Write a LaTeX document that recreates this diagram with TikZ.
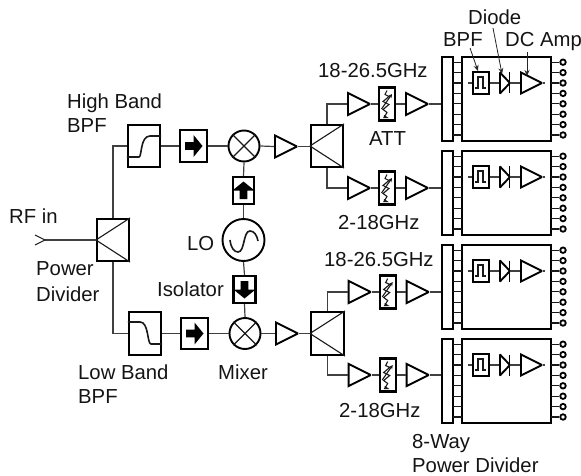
\documentclass[tikz,border=0pt]{standalone}
\usepackage{fontspec}
\setmainfont{Liberation Sans}
\usetikzlibrary{shapes.geometric,arrows.meta,calc}
\definecolor{wire}{gray}{0.25}
\tikzset{
  lbl/.style={anchor=base west,inner sep=0pt,font=\fontsize{20.3}{20}\selectfont,text=black!92},
  bx/.style={draw=black,line width=2.1pt,fill=none,inner sep=0pt,rectangle},
  amp/.style={draw=black,line width=1.9pt,isosceles triangle,isosceles triangle apex angle=90,isosceles triangle stretches,inner sep=0pt,minimum width=22pt,minimum height=22pt,miter limit=2,anchor=west},
  mix/.style={draw=black,line width=1.9pt,circle,inner sep=0pt,minimum size=31pt},
  wr/.style={draw=wire,line width=1.2pt},
  thin/.style={draw=black!90,line width=1.1pt},
  port/.style={draw=black,line width=1.8pt,circle,inner sep=0pt,minimum size=5.5pt},
  lead/.style={draw=black!85,line width=0.8pt,-{Stealth[length=6pt,width=5pt]}},
}
\newcommand{\isoarrow}[2]{\fill[black,shift={(#1)},rotate=#2] (-8.5,-3.8) -- (0,-3.8) -- (0,-11) -- (9,0) -- (0,11) -- (0,3.8) -- (-8.5,3.8) -- cycle;}
\newcommand{\splitter}[1]{\draw[thin] (#1.west) -- (#1.north east) (#1.west) -- (#1.south east);}
\begin{document}
\begin{tikzpicture}[x=1pt,y=-1pt]
\useasboundingbox (0,0) rectangle (581,476);
% input splitter
\node[bx,minimum width=32pt,minimum height=42pt] (ps) at (113,240) {};
\splitter{ps}
\coordinate (rf) at (45,240);
\draw[wr] (rf) -- (ps.west);
\draw[thin] (35,235) -- (rf) -- (35,245);
% high band
\node[bx,minimum width=32pt,minimum height=42pt] (hb) at (144,146) {};
\draw[thin,line width=1.6pt] (hb.west |- 0,157) -- (139,157) .. controls (142,157) and (140,136) .. (150,136) -- (hb.east |- 0,136);
\node[bx,minimum width=27pt,minimum height=32pt] (hi) at (193.5,146) {};
\isoarrow{hi.center}{0}
\node[mix] (hm) at (244,146) {};
\draw[thin,line width=1.4pt] (hm.north west) -- (hm.south east) (hm.north east) -- (hm.south west);
\node[amp] (ha) at (274,146.5) {};
\node[bx,minimum width=32pt,minimum height=42pt] (hs) at (327,146) {};
\splitter{hs}
% low band
\node[bx,minimum width=32pt,minimum height=43pt] (lb) at (145,333.5) {};
\draw[thin,line width=1.6pt] (lb.west |- 0,322) -- (140,322) .. controls (149,322) and (147,344) .. (151,344) -- (lb.east |- 0,344);
\node[bx,minimum width=27pt,minimum height=31pt] (li) at (194.5,333.5) {};
\isoarrow{li.center}{0}
\node[mix] (lm) at (245,333.5) {};
\draw[thin,line width=1.4pt] (lm.north west) -- (lm.south east) (lm.north east) -- (lm.south west);
\node[amp] (la) at (275,333.5) {};
\node[bx,minimum width=33pt,minimum height=43pt] (ls) at (327.5,333.5) {};
\splitter{ls}
% LO
\node[mix,minimum size=42pt] (lo) at (243.5,240) {};
\draw[thin,line width=1.6pt] (230,240) .. controls (231,248) and (234,252) .. (238,252) .. controls (245,252) and (243,231) .. (250,231) .. controls (254,231) and (257,235) .. (258,241);
\node[bx,minimum width=21pt,minimum height=27pt] (ui) at (243.5,190.5) {};
\isoarrow{ui.center}{90}
\node[bx,minimum width=22pt,minimum height=27pt] (di) at (244.5,289.5) {};
\isoarrow{di.center}{-90}
% wires
\draw[wr] (ps.north) -- (113,146) -- (hb.west);
\draw[wr] (ps.south) -- (113,333.5) -- (lb.west);
\draw[wr] (hb.east) -- (hi.west);
\draw[wr] (hi.east) -- (hm.west);
\draw[wr] (hm.east) -- (ha.west);
\draw[wr] (ha.apex) -- (ha.apex -| hs.west);
\draw[wr] (lb.east) -- (li.west);
\draw[wr] (li.east) -- (lm.west);
\draw[wr] (lm.east) -- (la.west);
\draw[wr] (la.apex) -- (ls.west);
\draw[wr] (hm.south) -- (ui.north);
\draw[wr] (ui.south) -- (lo.north);
\draw[wr] (lo.south) -- (di.north);
\draw[wr] (di.south) -- (lm.north);
% four output chains
\foreach \n/\by/\bt/\dx in {1/104/57/0,2/188/151/0,3/292/245/0.7,4/375/339/0.7}{
  \node[amp] (a\n) at (347+\dx,\by) {};
  \node[bx,minimum width=16pt,minimum height=33pt] (t\n) at (387+\dx,\by) {};
  \draw[thin] (387+\dx,\by-13.5) -- ++(-2,4) -- ++(4,2) -- ++(-6,5) -- ++(6,3) -- ++(-6,5) -- ++(4,3) -- ++(-3,5) -- ++(3,0) -- ++(-3,-2);
  \draw[thin,-{Stealth[length=4pt,width=4pt]}] (381.5+\dx,\by+5) -- (392+\dx,\by-10);
  \node[amp] (b\n) at (405+\dx,\by) {};
  \node[bx,minimum width=10.5pt,minimum height=84pt] (bar\n) at (447.3,\bt+42) {};
  \node[bx,minimum width=89pt,minimum height=84pt] (box\n) at (506.5,\bt+42) {};
  \draw[wr] (a\n.apex) -- (t\n.west);
  \draw[wr] (t\n.east) -- (b\n.west);
  \draw[wr] (b\n.apex) -- (bar\n.west |- 0,\by);
  \foreach \i in {0,...,7}{
    \coordinate (sl\n\i) at (452.5,\bt+5.2+10.4*\i);
    \coordinate (sr\n\i) at (462,\bt+5.2+10.4*\i);
    \node[port] (p\n\i) at (563,\bt+5.2+10.4*\i) {};
    \draw[thin] (sl\n\i) -- (sr\n\i);
    \draw[thin,line width=1.3pt] (551,\bt+5.2+10.4*\i) -- (p\n\i.west);
  }
  \node[bx,line width=1.9pt,minimum width=16pt,minimum height=22pt] (f\n) at (481,\bt+26) {};
  \draw[thin,line width=1.2pt] (475,\bt+31) -- (478,\bt+31) -- (478,\bt+20) -- (483,\bt+20) -- (483,\bt+31) -- (486,\bt+31);
  \coordinate (in\n) at (468,\bt+26);
  \draw[wr] (in\n) -- (f\n.west);
  \node[amp,minimum width=21pt,minimum height=10pt] (d\n) at (499,\bt+26) {};
  \draw[line width=1.9pt,draw=black] (509.5,\bt+15.5) -- (509.5,\bt+36.5);
  \node[amp,minimum width=21pt,minimum height=21pt] (c\n) at (520,\bt+26) {};
  \coordinate (out\n) at (545,\bt+26);
  \draw[wr] (f\n.east) -- (d\n.west);
  \draw[wr] (509.5,\bt+26) -- (c\n.west);
  \draw[wr] (c\n.apex) -- (out\n);
}
\draw[wr] (hs.north) -- (hs.north |- a1.west) -- (a1.west);
\draw[wr] (hs.south) -- (hs.south |- a2.west) -- (a2.west);
\draw[wr] (ls.north) -- (ls.north |- a3.west) -- (a3.west);
\draw[wr] (ls.south) -- (ls.south |- a4.west) -- (a4.west);
% labels
\node[lbl] (tHigh) at (67,109) {High Band};
\node[lbl] (tHB) at (67,133) {BPF};
\node[lbl] (tRF) at (9,223) {RF in};
\node[lbl] (tLO) at (187,250) {LO};
\node[lbl] (tPw) at (36,275) {Power};
\node[lbl] (tDv) at (36,301) {Divider};
\node[lbl] (tIs) at (157,296) {Isolator};
\node[lbl] (tLow) at (78,379) {Low Band};
\node[lbl] (tLB) at (78,403) {BPF};
\node[lbl] (tMx) at (218,379) {Mixer};
\node[lbl] (tD) at (468,25) {Diode};
\node[lbl] (tB) at (443,47) {BPF};
\node[lbl] (tDC) at (505,47) {DC Amp};
\node[lbl] (tA) at (318,78) {18-26.5GHz};
\node[lbl] (tATT) at (369,146) {ATT};
\node[lbl] (tC) at (338,229) {2-18GHz};
\node[lbl] (tE) at (324,266) {18-26.5GHz};
\node[lbl] (tF) at (339,417) {2-18GHz};
\node[lbl] (tW) at (412,448) {8-Way};
\node[lbl] (tPD) at (412,472) {Power Divider};
% leaders
\coordinate (lb1) at (470,48); \draw[lead] (lb1) -- (f1.north -| 478,0);
\coordinate (ld1) at (493,28); \draw[lead] (ld1) -- (502,74);
\coordinate (ld2) at (527,52); \draw[lead] (ld2) -- (527,76);
\end{tikzpicture}
\end{document}
